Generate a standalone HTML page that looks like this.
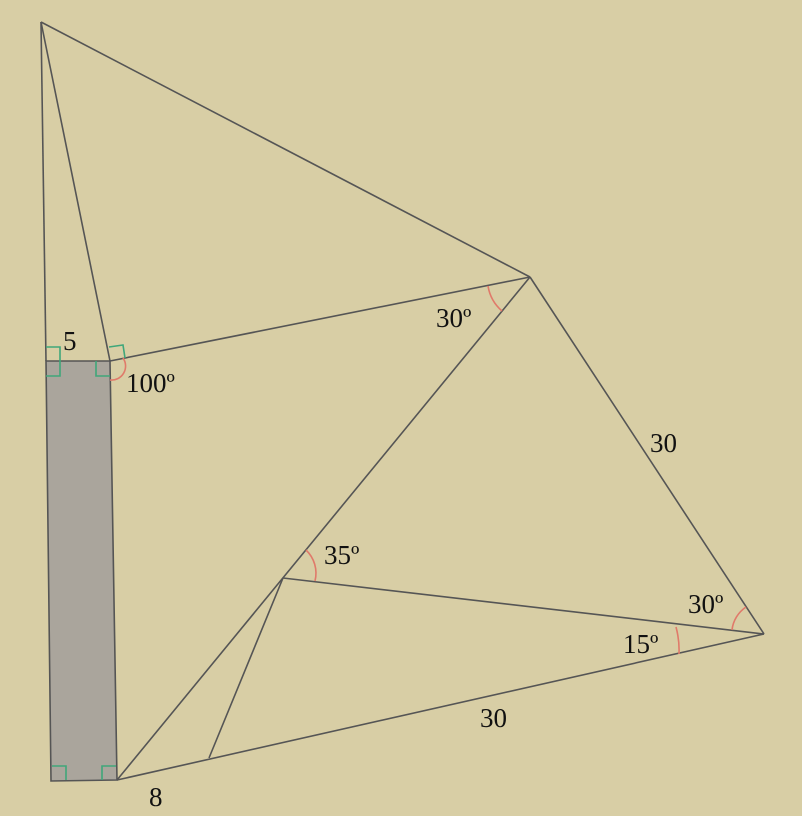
<!DOCTYPE html>
<html><head><meta charset="utf-8"><style>
html,body{margin:0;padding:0;background:#d8cea5;}
svg{display:block}
text{font-family:"Liberation Serif",serif;font-size:27px;fill:#111}
</style></head><body>
<svg width="802" height="816" viewBox="0 0 802 816">
<rect x="0" y="0" width="802" height="816" fill="#d8cea5"/>
<polygon points="46,361 110,361 117,780 51,781" fill="#aaa59c" stroke="#555" stroke-width="1.6"/>
<g stroke="#555" stroke-width="1.6" fill="none">
<line x1="41" y1="22" x2="46" y2="361"/>
<line x1="41" y1="22" x2="110" y2="361"/>
<line x1="41" y1="22" x2="530" y2="277"/>
<line x1="110" y1="361" x2="530" y2="277"/>
<line x1="530" y1="277" x2="764" y2="634"/>
<line x1="530" y1="277" x2="117" y2="780"/>
<line x1="283" y1="578" x2="764" y2="634"/>
<line x1="117" y1="780" x2="764" y2="634"/>
<line x1="283" y1="578" x2="209" y2="758"/>
</g>
<g stroke="#3fa77a" stroke-width="1.6" fill="none">
<polyline points="46,347 60,347 60,361"/>
<polyline points="46,376 60,376 60,361"/>
<polyline points="110,376 96,376 96,361"/>
<polyline points="109,347 123,345 125,358"/>
<polyline points="52,766 66,766 66,780"/>
<polyline points="116,766 102,766 102,780"/>
</g>
<g stroke="#e07a6a" stroke-width="1.6" fill="none">
<path d="M123,358 A14,14 0 0 1 110,380"/>
<path d="M488,286 A42,42 0 0 0 502,311"/>
<path d="M306,550 A32,32 0 0 1 315,581"/>
<path d="M732,630 A32,32 0 0 1 746,607"/>
<path d="M676,627 A88,88 0 0 1 679,654"/>
</g>
<text x="63" y="350">5</text>
<text x="126" y="392">100º</text>
<text x="436" y="327">30º</text>
<text x="650" y="452">30</text>
<text x="324" y="564">35º</text>
<text x="688" y="613">30º</text>
<text x="623" y="653">15º</text>
<text x="480" y="727">30</text>
<text x="149" y="806">8</text>
</svg>
</body></html>
